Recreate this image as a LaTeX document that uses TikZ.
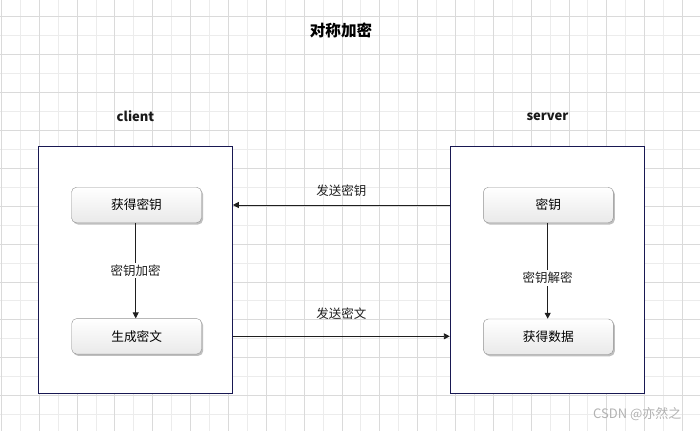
\documentclass[tikz,border=0pt]{standalone}
\usepackage{fontspec}
\setmainfont{Noto Sans CJK SC}
\usetikzlibrary{arrows.meta, shadows}
\definecolor{navy}{RGB}{24,24,82}
\definecolor{gmaj}{RGB}{218,218,218}
\definecolor{gmin}{RGB}{236,236,236}

\begin{document}
\begin{tikzpicture}[x=1pt, y=-1pt]
\tikzstyle{pnl}=[draw=navy, line width=1pt, fill=white,
                        minimum width=194pt, minimum height=247pt, inner sep=0pt]
 \tikzstyle{btn}=[draw=gray!85, rounded corners=5pt, top color=white, bottom color=gray!17,
                        drop shadow={shadow xshift=1.5pt, shadow yshift=-1.8pt, fill=gray!50, opacity=1},
                        minimum width=130pt, minimum height=35.5pt, inner sep=0pt,
                        font=\fontsize{12.7}{15}\selectfont]
 \tikzstyle{hdr}=[font=\fontsize{13}{15}\selectfont\bfseries, text=black!90]
 \tikzstyle{lbl}=[midway, inner sep=1pt, font=\fontsize{12.5}{15}\selectfont]
 \tikzstyle{lbb}=[inner sep=2pt, fill=white, font=\fontsize{12.5}{15}\selectfont]
 \tikzstyle{arr}=[line width=0.9pt, black!88, -{Triangle[length=6pt, width=6pt]}]
\useasboundingbox (0,0) rectangle (700,431);
\fill[white] (0,0) rectangle (700,431);
% grid
\foreach \i in {0,...,36}{\draw[gmin, line width=1pt] ({1.46+18.92*\i},0) -- ({1.46+18.92*\i},431);}
\foreach \j in {0,...,21}{\draw[gmin, line width=1pt] (0,{16.7+18.95*\j}) -- (700,{16.7+18.95*\j});}
\foreach \i in {0,...,18}{\draw[gmaj, line width=1pt] ({1.46+37.84*\i},0) -- ({1.46+37.84*\i},431);}
\foreach \j in {0,...,10}{\draw[gmaj, line width=1pt] (0,{16.7+37.9*\j}) -- (700,{16.7+37.9*\j});}

	\node[font=\fontsize{15.6}{18}\selectfont\bfseries] (title) at (341,30.5){对称加密};
	\node[hdr] (hcl) at (135.5,116){client};
	\node[hdr] (hsv) at (547.5,116.5){server};

	\node[pnl] (pcl) at (135.3,269.7){};
	\node[pnl] (psv) at (547.3,269.7){};

	\node[btn] (getkey) at (136.5,205){获得密钥};
	\node[btn] (cipher) at (136.7,336.3){生成密文};
	\node[btn] (key) at (548.3,205){密钥};
	\node[btn] (getdata) at (548.3,336.7){获得数据};

\draw[arr] (psv.west |- key) -- node[lbl, above=7pt] (ls1) {发送密钥} (pcl.east |- key);
\draw[arr] (pcl.east |- cipher) -- node[lbl, above=15pt] (ls2) {发送密文} (psv.west |- cipher);
\draw[arr] (getkey.south -| 135.7,0) -- node[lbb, midway] (lenc) {密钥加密} (cipher.north -| 135.7,0);
\draw[arr] (key.south -| 547.7,0) -- node[lbb, pos=0.575] (ldec) {密钥解密} (getdata.north -| 547.7,0);

	\node[anchor=east, text=gray!60, font=\fontsize{13}{15}\selectfont] (wm) at (685,414){CSDN @亦然之};
\end{tikzpicture}
\end{document}
